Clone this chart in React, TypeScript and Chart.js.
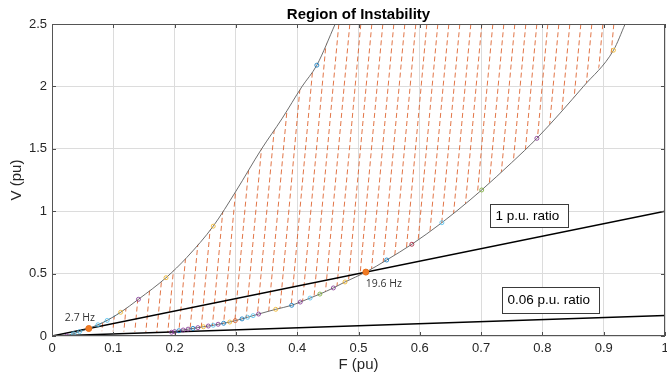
import React, { useEffect, useRef } from 'react';
import { Chart, registerables } from 'chart.js';

Chart.register(...registerables);

// ---------------- data ----------------
const TITLE = 'Region of Instability';
const X_LABEL = 'F (pu)';
const Y_LABEL = 'V (pu)';
const xTickLabels = ['0', '0.1', '0.2', '0.3', '0.4', '0.5', '0.6', '0.7', '0.8', '0.9', '1'];
const yTickLabels = ['0', '0.5', '1', '1.5', '2', '2.5'];

// MATLAB palette keys for markers ('' = no marker)
const B = '#0072BD', Y = '#EDB120', P = '#7E2F8E', G = '#77AC30', C = '#4DBEEE', R = '#A2142F', O = '#D95319', N = '';

// upper (left) boundary of the region
const upperF = [0.024, 0.035, 0.045, 0.06, 0.075, 0.09, 0.112, 0.141, 0.186, 0.22, 0.263, 0.3, 0.342, 0.375, 0.408, 0.432, 0.462];
const upperV = [0.0, 0.018, 0.035, 0.06, 0.09, 0.125, 0.19, 0.294, 0.467, 0.63, 0.88, 1.16, 1.5, 1.74, 2.0, 2.17, 2.5];
const upperMark = [P, C, C, N, C, C, Y, P, Y, N, Y, N, N, N, N, B, N];

// lower (right) boundary of the region
const lowerF = [0.195, 0.2, 0.207, 0.214, 0.222, 0.23, 0.238, 0.247, 0.255, 0.263, 0.271, 0.28, 0.29, 0.299, 0.31, 0.319, 0.328, 0.337, 0.365, 0.391, 0.405, 0.421, 0.437, 0.459, 0.478, 0.512, 0.546, 0.587, 0.636, 0.682, 0.701, 0.75, 0.791, 0.867, 0.916, 0.935];
const lowerV = [0.03, 0.035, 0.042, 0.048, 0.055, 0.061, 0.067, 0.074, 0.08, 0.086, 0.094, 0.102, 0.112, 0.123, 0.137, 0.15, 0.163, 0.176, 0.214, 0.246, 0.272, 0.304, 0.336, 0.385, 0.433, 0.512, 0.609, 0.735, 0.908, 1.09, 1.17, 1.39, 1.584, 2.0, 2.29, 2.5];
const lowerMark = [P, P, B, P, P, B, P, Y, P, C, P, B, Y, O, B, C, C, P, Y, B, P, C, G, P, Y, N, B, R, C, N, G, N, P, N, Y, N];

// bottom-left edge of the hatched region (below the start of the lower curve)
const hatchBaseF = [0.065];
const hatchBaseV = [0.04];

// V/F ratio lines
const ratio1F = [0, 1];
const ratio1V = [0, 1];
const ratio006F = [0, 1];
const ratio006V = [0, 0.165];

// crossing points
const crossF = [0.06, 0.512];
const crossV = [0.06, 0.512];
const crossLabels = ['2.7 Hz', '19.6 Hz'];

const boxLabels = ['1 p.u. ratio', '0.06 p.u. ratio'];

// ---------------- layout / style (not data) ----------------
const W = 667;
const H = 380;
const crossLabelAnchor = [
  { f: 0.021, v: 0.142 },
  { f: 0.512, v: 0.42 },
];
const boxAnchor = [
  { f: 0.7145, v: 0.966, h: 23 },
  { f: 0.734, v: 0.289, h: 26 },
];

function makeHatch(): CanvasPattern | string {
  const tw = 11;
  const th = 121;
  const c = document.createElement('canvas');
  c.width = tw;
  c.height = th;
  const g = c.getContext('2d');
  if (!g) return 'rgba(0,0,0,0)';
  const len = Math.sqrt(tw * tw + th * th);
  const period = len / 15;
  g.strokeStyle = 'rgba(217,83,25,0.8)';
  g.lineWidth = 1;
  g.setLineDash([period * 0.62, period * 0.38]);
  for (const k of [-1, 0, 1]) {
    g.beginPath();
    g.moveTo(tw + k * tw, 0);
    g.lineTo(k * tw, th);
    g.stroke();
  }
  const pat = g.createPattern(c, 'repeat');
  return pat || 'rgba(217,83,25,0.3)';
}

const pts = (fs: number[], vs: number[]) => fs.map((f, i) => ({ x: f, y: vs[i] }));

const decorPlugin = {
  id: 'decor',
  afterDraw(chart: any) {
    const { ctx, chartArea: a, scales } = chart;
    const x = scales.x;
    const y = scales.y;
    ctx.save();
    // inner ticks
    ctx.strokeStyle = '#4d4d4d';
    ctx.lineWidth = 1;
    ctx.beginPath();
    x.ticks.forEach((t: any) => {
      const px = Math.round(x.getPixelForValue(t.value)) + 0.5;
      ctx.moveTo(px, a.bottom);
      ctx.lineTo(px, a.bottom - 4);
      ctx.moveTo(px, a.top);
      ctx.lineTo(px, a.top + 4);
    });
    y.ticks.forEach((t: any) => {
      const py = Math.round(y.getPixelForValue(t.value)) + 0.5;
      ctx.moveTo(a.left, py);
      ctx.lineTo(a.left + 4, py);
      ctx.moveTo(a.right, py);
      ctx.lineTo(a.right - 4, py);
    });
    ctx.stroke();
    // frame
    ctx.strokeStyle = '#555555';
    ctx.strokeRect(Math.round(a.left) + 0.5, Math.round(a.top) + 0.5, Math.round(a.right - a.left) - 1, Math.round(a.bottom - a.top) - 1);

    // title
    ctx.fillStyle = '#000';
    ctx.font = 'bold 15px "Liberation Sans", Arial, sans-serif';
    ctx.textAlign = 'center';
    ctx.textBaseline = 'alphabetic';
    ctx.fillText(TITLE, (a.left + a.right) / 2, 19);

    // axis titles
    ctx.fillStyle = '#262626';
    ctx.font = '15px "Liberation Sans", Arial, sans-serif';
    ctx.textBaseline = 'middle';
    ctx.fillText(X_LABEL, (a.left + a.right) / 2, 365);
    ctx.save();
    ctx.translate(17, (a.top + a.bottom) / 2);
    ctx.rotate(-Math.PI / 2);
    ctx.fillText(Y_LABEL, 0, 0);
    ctx.restore();

    // crossing labels
    ctx.fillStyle = '#333';
    ctx.font = '10.5px "Open Sans", sans-serif';
    ctx.textAlign = 'left';
    crossLabels.forEach((s, i) => {
      const an = crossLabelAnchor[i];
      ctx.fillText(s, x.getPixelForValue(an.f), y.getPixelForValue(an.v));
    });

    // boxed labels
    ctx.font = '13.5px "Liberation Sans", Arial, sans-serif';
    boxLabels.forEach((s, i) => {
      const an = boxAnchor[i];
      const bx = Math.round(x.getPixelForValue(an.f)) + 0.5;
      const cy = y.getPixelForValue(an.v);
      const tw = ctx.measureText(s).width;
      const bw = Math.round(tw + 14);
      const by = Math.round(cy - an.h / 2) + 0.5;
      ctx.fillStyle = '#fff';
      ctx.fillRect(bx, by, bw, an.h);
      ctx.strokeStyle = '#3a3a3a';
      ctx.lineWidth = 1;
      ctx.strokeRect(bx, by, bw, an.h);
      ctx.fillStyle = '#000';
      ctx.fillText(s, bx + 5, cy + 0.5);
    });
    ctx.restore();
  },
};

export default function App() {
  const ref = useRef<HTMLCanvasElement | null>(null);
  useEffect(() => {
    document.body.style.margin = '0';
    const canvas = ref.current;
    if (!canvas) return;
    const hatch = makeHatch();
    const curveColor = 'rgba(85,85,85,0.95)';
    const markColors = (m: string[]) => m.map((c) => (c ? c : 'rgba(0,0,0,0)'));
    const markRadius = (m: string[]) => m.map((c) => (c ? 2 : 0));

    const hatchF = [...upperF.slice(3), ...lowerF.slice().reverse(), ...hatchBaseF];
    const hatchV = [...upperV.slice(3), ...lowerV.slice().reverse(), ...hatchBaseV];

    const chart = new Chart(canvas, {
      type: 'line',
      data: {
        datasets: [
          {
            label: 'crossings',
            data: pts(crossF, crossV),
            showLine: false,
            pointRadius: 3,
            pointBackgroundColor: '#F07A22',
            pointBorderColor: '#E8701A',
            pointBorderWidth: 1,
          },
          {
            label: 'upper',
            data: pts(upperF, upperV),
            borderColor: curveColor,
            borderWidth: 0.9,
            cubicInterpolationMode: 'monotone',
            pointRadius: markRadius(upperMark),
            pointBorderColor: markColors(upperMark),
            pointBackgroundColor: 'rgba(0,0,0,0)',
            pointBorderWidth: 0.8,
            fill: false,
          },
          {
            label: 'nearOrigin',
            data: pts(upperF.slice(0, 7), upperV.slice(0, 7)),
            borderColor: 'rgba(77,190,238,0.8)',
            borderWidth: 1,
            borderDash: [3, 2],
            pointRadius: 0,
            fill: false,
          },
          {
            label: 'lower',
            data: pts(lowerF, lowerV),
            borderColor: curveColor,
            borderWidth: 0.9,
            cubicInterpolationMode: 'monotone',
            pointRadius: markRadius(lowerMark),
            pointBorderColor: markColors(lowerMark),
            pointBackgroundColor: 'rgba(0,0,0,0)',
            pointBorderWidth: 0.8,
            fill: false,
          },
          {
            label: '1 p.u.',
            data: pts(ratio1F, ratio1V),
            borderColor: '#000',
            borderWidth: 1.5,
            pointRadius: 0,
            fill: false,
          },
          {
            label: '0.06 p.u.',
            data: pts(ratio006F, ratio006V),
            borderColor: '#000',
            borderWidth: 1.5,
            pointRadius: 0,
            fill: false,
          },
          {
            label: 'hatch',
            data: pts(hatchF, hatchV),
            borderWidth: 0,
            borderColor: 'rgba(0,0,0,0)',
            backgroundColor: hatch as any,
            pointRadius: 0,
            fill: 'shape',
          },
        ],
      },
      options: {
        animation: false,
        responsive: false,
        maintainAspectRatio: false,
        events: [],
        layout: { autoPadding: false, padding: { top: 24, right: 2, left: 0, bottom: 0 } },
        plugins: {
          legend: { display: false },
          tooltip: { enabled: false },
          title: { display: false },
        },
        scales: {
          x: {
            type: 'linear',
            min: 0,
            max: 1,
            afterFit: (s: any) => {
              s.height = 44;
              s.paddingLeft = 0;
              s.paddingRight = 0;
            },
            ticks: {
              stepSize: 0.1,
              padding: 5,
              maxRotation: 0,
              autoSkip: false,
              color: '#262626',
              font: { family: '"Liberation Sans", Arial, sans-serif', size: 13 },
              callback: (_v: any, i: number) => xTickLabels[i],
            },
            grid: { color: '#dcdcdc', lineWidth: 1, drawTicks: false },
            border: { display: false },
          },
          y: {
            type: 'linear',
            min: 0,
            max: 2.5,
            afterFit: (s: any) => {
              s.width = 52;
              s.paddingTop = 0;
              s.paddingBottom = 0;
            },
            ticks: {
              stepSize: 0.5,
              padding: 5,
              color: '#262626',
              font: { family: '"Liberation Sans", Arial, sans-serif', size: 13 },
              callback: (_v: any, i: number) => yTickLabels[i],
            },
            grid: { color: '#dcdcdc', lineWidth: 1, drawTicks: false },
            border: { display: false },
          },
        },
      },
      plugins: [decorPlugin],
    } as any);
    return () => chart.destroy();
  }, []);

  return (
    <div style={{ width: W, height: H, position: 'relative', background: '#fff' }}>
      <canvas ref={ref} width={W} height={H} style={{ display: 'block', width: W, height: H }} />
    </div>
  );
}
